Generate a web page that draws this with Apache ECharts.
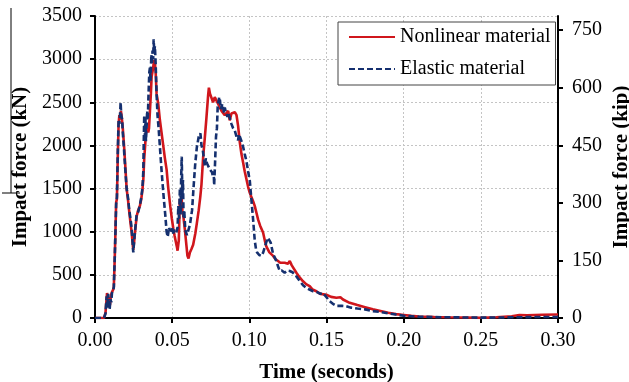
<!DOCTYPE html>
<html>
<head>
<meta charset="utf-8">
<script src="https://cdn.jsdelivr.net/npm/echarts@6/dist/echarts.min.js"></script>
<style>
html,body{margin:0;padding:0;background:#fff;}
#chart{width:629px;height:382px;}
</style>
</head>
<body>
<div id="chart"></div>
<script>
// Time (s) vs impact force (kN)
var nonlinearMaterial = [
[0,0],[0.0058,0],[0.0068,60],[0.0078,290],[0.0085,200],[0.009,240],[0.0097,150],[0.0103,260],[0.011,300],[0.0118,330],[0.0122,360],
[0.0128,700],[0.0133,1030],[0.0137,1340],[0.0142,1380],[0.0148,1900],[0.0153,2250],[0.0158,2350],[0.0163,2300],[0.0168,2400],[0.0173,2330],
[0.018,2200],[0.0188,2000],[0.0195,1800],[0.0205,1500],[0.0215,1350],[0.0222,1230],[0.023,1100],[0.0237,1000],[0.0243,880],[0.0248,790],
[0.0253,870],[0.0259,990],[0.027,1180],[0.028,1250],[0.0291,1300],[0.03,1380],[0.0307,1480],[0.0313,1600],[0.0319,1850],[0.0325,2000],
[0.033,2150],[0.0337,2200],[0.0345,2150],[0.035,2200],[0.0356,2400],[0.0362,2600],[0.0367,2800],[0.0372,2820],[0.0377,2900],[0.0382,2990],
[0.0388,2960],[0.0393,2850],[0.0399,2600],[0.041,2480],[0.042,2300],[0.0431,2150],[0.0442,2000],[0.0453,1850],[0.0464,1720],[0.0475,1500],
[0.0488,1290],[0.0498,1150],[0.0507,1040],[0.0516,950],[0.0524,880],[0.053,830],[0.0535,780],[0.0539,770],[0.0543,900],[0.055,1380],
[0.0556,1300],[0.0561,1400],[0.0566,1250],[0.0571,1200],[0.0582,1030],[0.0593,830],[0.0599,720],[0.0606,690],[0.0615,760],[0.0625,800],
[0.0636,850],[0.065,980],[0.066,1100],[0.0672,1250],[0.0682,1400],[0.069,1550],[0.0701,1870],[0.0712,2100],[0.0722,2320],[0.0733,2580],
[0.0738,2670],[0.0745,2600],[0.0755,2580],[0.0765,2500],[0.0776,2560],[0.0787,2540],[0.0798,2480],[0.0809,2440],[0.082,2400],[0.083,2390],
[0.0841,2350],[0.0852,2330],[0.0863,2400],[0.0873,2290],[0.0884,2370],[0.0895,2380],[0.0906,2385],[0.0917,2350],[0.0927,2230],[0.0938,2040],
[0.0949,1900],[0.096,1800],[0.097,1700],[0.0981,1610],[0.0992,1520],[0.1003,1450],[0.1014,1400],[0.1025,1350],[0.1035,1300],[0.1046,1220],
[0.1057,1140],[0.107,1070],[0.1089,990],[0.11,900],[0.111,830],[0.113,760],[0.1154,720],[0.117,680],[0.1186,660],[0.12,640],[0.1229,640],
[0.125,630],[0.1262,660],[0.1275,610],[0.1283,600],[0.1305,525],[0.1326,470],[0.1348,425],[0.137,390],[0.1391,370],[0.141,330],[0.1434,310],
[0.146,280],[0.1499,270],[0.153,245],[0.1564,235],[0.159,240],[0.1607,214],[0.165,176],[0.17,150],[0.175,125],[0.18,100],[0.185,80],
[0.19,60],[0.195,45],[0.2,35],[0.205,25],[0.21,18],[0.22,12],[0.23,8],[0.24,5],[0.25,2],[0.26,8],[0.27,20],[0.275,35],[0.28,30],
[0.29,38],[0.3,40]
];
var elasticMaterial = [
[0,0],[0.0058,0],[0.0068,50],[0.0075,250],[0.008,120],[0.0085,280],[0.009,180],[0.0095,100],[0.01,220],[0.0105,180],[0.011,290],
[0.0118,320],[0.0122,360],[0.0128,700],[0.0133,1030],[0.0137,1320],[0.0142,1400],[0.0148,1950],[0.0153,2300],[0.0158,2250],[0.0163,2380],
[0.0166,2500],[0.017,2350],[0.0176,2300],[0.018,2150],[0.0188,1950],[0.0195,1750],[0.0205,1500],[0.0215,1380],[0.0222,1250],[0.023,1150],
[0.0237,1050],[0.0243,900],[0.0248,760],[0.0253,880],[0.0259,1000],[0.027,1200],[0.028,1230],[0.0291,1310],[0.03,1400],[0.0307,1500],
[0.0313,1700],[0.0316,2050],[0.0319,2350],[0.0323,2100],[0.0327,2300],[0.033,2050],[0.0334,2200],[0.0338,2400],[0.0342,2300],[0.0347,2600],
[0.0352,2850],[0.0356,2900],[0.036,2750],[0.0365,3050],[0.0369,2950],[0.0373,3100],[0.0377,3000],[0.038,3230],[0.0384,3080],[0.0388,3150],
[0.0393,2950],[0.0399,2600],[0.0405,2350],[0.0413,2180],[0.0428,1790],[0.0436,1600],[0.0445,1400],[0.0456,1180],[0.0464,1000],[0.0471,940],
[0.0476,1000],[0.048,1050],[0.0485,1010],[0.049,1050],[0.0496,1000],[0.0502,1040],[0.0507,980],[0.0513,1020],[0.052,1000],[0.0527,990],
[0.0535,1050],[0.054,1300],[0.0545,1150],[0.055,1500],[0.0555,1200],[0.0558,1600],[0.0562,1870],[0.0566,1400],[0.057,1600],[0.0574,1150],
[0.0578,1250],[0.0585,1020],[0.0596,960],[0.0607,940],[0.0615,1080],[0.0629,1250],[0.064,1550],[0.065,1800],[0.066,1980],[0.0672,2100],
[0.0683,2140],[0.069,2000],[0.0698,1950],[0.0704,1870],[0.0712,1760],[0.0718,1850],[0.0726,1790],[0.0735,1780],[0.0745,1720],[0.0758,1690],
[0.0764,1640],[0.0769,1700],[0.0772,1540],[0.0778,1800],[0.0784,2100],[0.079,2200],[0.0795,2450],[0.08,2460],[0.0805,2560],[0.081,2520],
[0.0815,2420],[0.082,2400],[0.0825,2480],[0.083,2440],[0.0836,2380],[0.0841,2440],[0.0847,2390],[0.0852,2400],[0.0858,2330],[0.0863,2380],
[0.0873,2320],[0.0884,2250],[0.0895,2200],[0.0906,2170],[0.0917,2100],[0.0927,2060],[0.0933,2130],[0.0938,2110],[0.0949,2050],[0.096,1980],
[0.097,1900],[0.0981,1820],[0.0992,1700],[0.1003,1590],[0.1014,1360],[0.1025,1130],[0.1035,900],[0.1043,800],[0.105,760],[0.1064,730],
[0.1078,720],[0.109,760],[0.11,820],[0.111,880],[0.112,930],[0.113,900],[0.1139,870],[0.1154,740],[0.1165,700],[0.1175,660],[0.1186,600],
[0.1197,545],[0.121,550],[0.1229,525],[0.1245,550],[0.1262,545],[0.128,530],[0.1294,505],[0.131,470],[0.1326,430],[0.1348,380],[0.1369,350],
[0.139,330],[0.1413,310],[0.144,300],[0.146,280],[0.1477,290],[0.15,240],[0.152,195],[0.1545,160],[0.1564,140],[0.16,140],[0.1628,136],
[0.166,120],[0.17,110],[0.175,100],[0.18,80],[0.185,70],[0.19,55],[0.195,40],[0.2,25],[0.205,20],[0.21,15],[0.22,10],[0.23,8],[0.24,6],
[0.25,4],[0.26,5],[0.27,8],[0.28,10],[0.29,12],[0.3,12]
];
var seriesNames = ['Nonlinear material', 'Elastic material'];
var xTitle = 'Time (seconds)';
var yLeftTitle = 'Impact force (kN)';
var yRightTitle = 'Impact force (kip)';
var kNperKip = 4.448222;

var font = 'Liberation Serif';
var chart = echarts.init(document.getElementById('chart'));
var grid = {left:95, right:71, top:16, bottom:64, containLabel:false, outerBoundsMode:'none'};
var dotted = {show:true, lineStyle:{color:'#c4c4c4', type:[2,2], width:1}};
var plain = function(v){ return String(v); };
chart.setOption({
  animation:false,
  backgroundColor:'#fff',
  grid:grid,
  legend:{
    orient:'vertical', left:338, top:22,
    padding:[4,5,5,10], itemGap:10, itemWidth:46, itemHeight:14,
    borderColor:'#444', borderWidth:1, backgroundColor:'#fff',
    itemStyle:{color:'transparent', borderColor:'transparent', borderWidth:0, opacity:0},
    textStyle:{fontFamily:font, fontSize:20, color:'#000', lineHeight:22},
    data:seriesNames
  },
  xAxis:{
    type:'value', min:0, max:0.3, interval:0.05,
    name:xTitle, nameLocation:'middle', nameGap:44,
    nameTextStyle:{fontFamily:font, fontSize:21, fontWeight:'bold', color:'#000'},
    axisLine:{show:true, onZero:false, lineStyle:{color:'#000', width:2}},
    axisTick:{show:true, inside:false, length:5, lineStyle:{color:'#000', width:2}},
    axisLabel:{fontFamily:font, fontSize:20, color:'#000', margin:13, formatter:function(v){return v.toFixed(2);}},
    splitLine:dotted
  },
  yAxis:[{
    type:'value', min:0, max:3500, interval:500, position:'left',
    name:yLeftTitle, nameLocation:'middle', nameGap:64,
    nameTextStyle:{fontFamily:font, fontSize:21, fontWeight:'bold', color:'#000'},
    axisLine:{show:true, lineStyle:{color:'#000', width:2}},
    axisTick:{show:true, inside:false, length:5, lineStyle:{color:'#000', width:2}},
    axisLabel:{fontFamily:font, fontSize:20, color:'#000', margin:13, formatter:plain},
    splitLine:dotted
  },{
    type:'value', min:0, max:3500/kNperKip, interval:150, position:'right',
    name:yRightTitle, nameLocation:'middle', nameGap:53, nameMoveOverlap:false,
    nameTextStyle:{fontFamily:font, fontSize:21, fontWeight:'bold', color:'#000'},
    axisLine:{show:true, lineStyle:{color:'#000', width:2}},
    axisTick:{show:true, inside:false, length:5, lineStyle:{color:'#000', width:2}},
    axisLabel:{fontFamily:font, fontSize:20, color:'#000', margin:14, showMaxLabel:false, formatter:plain},
    splitLine:{show:false}
  }],
  series:[{
    name:seriesNames[0], type:'line', data:nonlinearMaterial, yAxisIndex:0,
    symbol:'none', showSymbol:false, color:'#d0161c',
    lineStyle:{color:'#d0161c', width:2.6}, z:2
  },{
    name:seriesNames[1], type:'line', data:elasticMaterial, yAxisIndex:0,
    symbol:'none', showSymbol:false, color:'#15306f',
    lineStyle:{color:'#15306f', width:2.6, type:[6,3]}, z:3
  }],
  graphic:[
    {type:'line', shape:{x1:11, y1:8, x2:11, y2:193}, style:{stroke:'#000', lineWidth:1}},
    {type:'line', shape:{x1:2, y1:193, x2:20, y2:193}, style:{stroke:'#000', lineWidth:1}}
  ]
});
</script>
</body>
</html>
